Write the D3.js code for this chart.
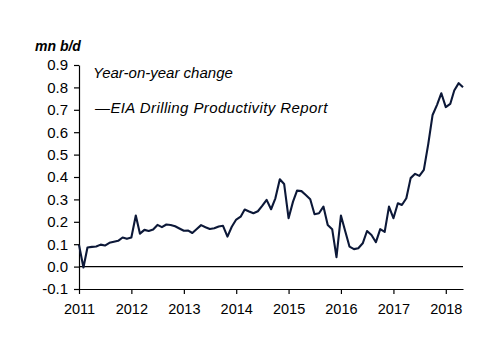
<!DOCTYPE html>
<html>
<head>
<meta charset="utf-8">
<script src="https://cdn.jsdelivr.net/npm/d3@7"></script>
<style>
  body { margin: 0; background: #fff; }
  svg text { font-family: "Liberation Sans", Arial, sans-serif; }
</style>
</head>
<body>
<div id="vis"></div>
<script>
// monthly year-on-year change, mn b/d, Jan 2011 .. May 2018
const startMonth = new Date(2011, 0, 1)
const yoyChange = [
  0.097, -0.004, 0.085, 0.088, 0.090, 0.098, 0.094, 0.106, 0.111, 0.115, 0.130, 0.124,
  0.130, 0.228, 0.147, 0.164, 0.159, 0.166, 0.186, 0.176, 0.188, 0.186, 0.180, 0.170,
  0.160, 0.161, 0.150, 0.168, 0.185, 0.176, 0.168, 0.171, 0.179, 0.182, 0.134, 0.178,
  0.210, 0.223, 0.255, 0.246, 0.238, 0.247, 0.271, 0.298, 0.256, 0.305, 0.390, 0.369,
  0.216, 0.290, 0.339, 0.337, 0.320, 0.301, 0.234, 0.238, 0.268, 0.186, 0.167, 0.042,
  0.228, 0.156, 0.089, 0.078, 0.082, 0.104, 0.159, 0.141, 0.109, 0.167, 0.155, 0.268,
  0.216, 0.283, 0.275, 0.305, 0.395, 0.414, 0.405, 0.432, 0.548, 0.677, 0.722, 0.774,
  0.712, 0.726, 0.786, 0.819, 0.801
]
const yearTicks = [2011, 2012, 2013, 2014, 2015, 2016, 2017, 2018]
const yTicks = [-0.1, 0.0, 0.1, 0.2, 0.3, 0.4, 0.5, 0.6, 0.7, 0.8, 0.9]
const yTickLabels = ['-0.1', '0.0', '0.1', '0.2', '0.3', '0.4', '0.5', '0.6', '0.7', '0.8', '0.9']

const width = 500
const height = 353
const margin = {top: 65, right: 37, bottom: 64, left: 79}

const svg = d3.select('#vis')
    .append('svg')
    .attr('width', width)
    .attr('height', height)

const months = yoyChange.map((v, i) => d3.timeMonth.offset(startMonth, i))
const data = yoyChange.map((v, i) => ({date: months[i], value: v}))

const x = d3.scaleTime()
    .domain([startMonth, months[months.length - 1]])
    .range([margin.left, width - margin.right])

const y = d3.scaleLinear()
    .domain([-0.1, 0.9])
    .range([height - margin.bottom, margin.top])

//x axis at the bottom
svg.append('g')
    .attr('transform', `translate(0, ${height - margin.bottom})`)
    .call(d3.axisBottom(x)
        .tickValues(yearTicks.map(yr => new Date(yr, 0, 1)))
        .tickFormat(d3.timeFormat('%Y'))
        .tickSize(5)
        .tickSizeOuter(0))
    .call(g => g.selectAll('text').attr('font-size', 14.5).attr('fill', '#000').attr('dy', '1.15em'))

//y axis
svg.append('g')
    .attr('transform', `translate(${margin.left}, 0)`)
    .call(d3.axisLeft(y)
        .tickValues(yTicks)
        .tickFormat((d, i) => yTickLabels[i])
        .tickSize(5)
        .tickSizeOuter(0))
    .call(g => g.selectAll('text').attr('font-size', 15).attr('fill', '#000').attr('x', -11))

svg.selectAll('.domain, .tick line').attr('stroke', '#000').attr('stroke-width', 1.2)

//zero line
svg.append('line')
    .attr('x1', margin.left)
    .attr('x2', width - margin.right)
    .attr('y1', y(0))
    .attr('y2', y(0))
    .attr('stroke', '#000')
    .attr('stroke-width', 1.3)

const line = d3.line()
    .x(d => x(d.date))
    .y(d => y(d.value))

svg.append('path')
    .datum(data)
    .attr('d', line)
    .attr('fill', 'none')
    .attr('stroke', '#0c1838')
    .attr('stroke-width', 2.1)
    .attr('stroke-linejoin', 'round')

//unit label
svg.append('text')
    .attr('x', 35)
    .attr('y', 51)
    .attr('font-size', 14)
    .attr('font-weight', 'bold')
    .attr('font-style', 'italic')
    .text('mn b/d')

svg.append('text')
    .attr('x', 93)
    .attr('y', 78)
    .attr('font-size', 15)
    .attr('font-style', 'italic')
    .text('Year-on-year change')

svg.append('text')
    .attr('x', 95)
    .attr('y', 113)
    .attr('font-size', 15)
    .attr('font-style', 'italic')
    .attr('letter-spacing', 0.4)
    .text('—EIA Drilling Productivity Report')
</script>
</body>
</html>
